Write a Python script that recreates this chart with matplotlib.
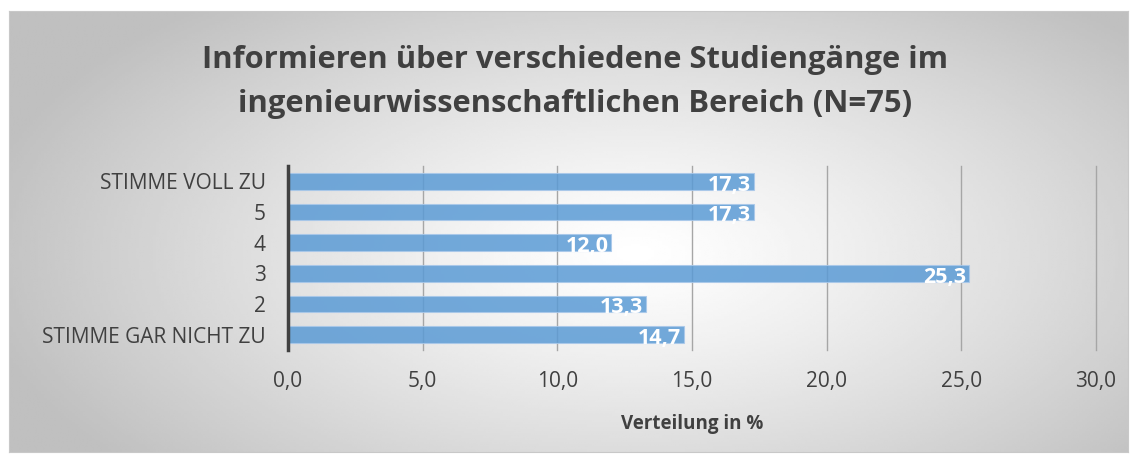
import numpy as np
import matplotlib
matplotlib.use("Agg")
import matplotlib.pyplot as plt
from matplotlib.ticker import FuncFormatter

plt.rcParams['font.family'] = ['Open Sans', 'DejaVu Sans']

categories = ['STIMME GAR NICHT ZU', '2', '3', '4', '5', 'STIMME VOLL ZU']
values = [14.7, 13.3, 25.3, 12.0, 17.3, 17.3]
xticks = [0, 5, 10, 15, 20, 25, 30]
title = 'Informieren über verschiedene Studiengänge im\ningenieurwissenschaftlichen Bereich (N=75)'

W, H = 1137, 457
fig = plt.figure(figsize=(W / 100, H / 100), dpi=100)
fig.patch.set_facecolor('white')

# radial gradient background of the chart area
x0, y0, x1, y1 = 9, 11, 1128, 452
bg = fig.add_axes([x0 / W, 1 - y1 / H, (x1 - x0) / W, (y1 - y0) / H])
gx, gy = np.meshgrid(np.linspace(0, 1, 400), np.linspace(0, 1, 200))
r = np.sqrt(((gx - 0.56) / 0.6) ** 2 + ((gy - 0.55) / 0.75) ** 2)
shade = 1 - 0.25 * np.clip(r, 0, 1) ** 1.2
bg.imshow(shade, cmap='gray', vmin=0, vmax=1, aspect='auto',
          extent=[0, 1, 0, 1], interpolation='bilinear')
bg.set_xticks([])
bg.set_yticks([])
for s in bg.spines.values():
    s.set_color('#c8c8c8')
    s.set_linewidth(0.8)

# plot area
px0, px1, py0, py1 = 288, 1096, 166, 350
ax = fig.add_axes([px0 / W, 1 - py1 / H, (px1 - px0) / W, (py1 - py0) / H])
ax.patch.set_alpha(0)
ypos = np.arange(len(categories))
bars = ax.barh(ypos, values, height=0.55, color='#5b9bd5', alpha=0.85,
               edgecolor='#a9c8ea', linewidth=0.8, zorder=3)
ax.set_xlim(0, 30)
ax.set_ylim(-0.5, len(categories) - 0.5)
ax.set_xticks(xticks)
ax.xaxis.set_major_formatter(FuncFormatter(lambda v, p: f'{v:.1f}'.replace('.', ',')))
ax.set_yticks(ypos)
ax.set_yticklabels(categories)
ax.tick_params(axis='both', length=0, labelsize=15, colors='#404040')
ax.tick_params(axis='x', pad=15)
ax.tick_params(axis='y', pad=16)
ax.grid(axis='x', color='#a6a6a6', linewidth=1.0, zorder=1)
for gl in ax.get_xgridlines():
    gl.set_clip_on(False)
for side in ['top', 'right', 'bottom']:
    ax.spines[side].set_visible(False)
ax.spines['left'].set_color('#404040')
ax.spines['left'].set_linewidth(2.5)
ax.spines['left'].set_zorder(4)

for b, v in zip(bars, values):
    ax.text(v - 0.1, b.get_y() + b.get_height() / 2 - 0.12, f'{v:.1f}'.replace('.', ','),
            ha='right', va='center', color='white', fontsize=15.5, fontweight='bold', zorder=5)

ax.set_xlabel('Verteilung in %', fontsize=13.5, fontweight='bold', color='#404040', labelpad=16)

fig.text(0.5 + 7 / W, 1 - 82 / H, title, ha='center', va='center', fontsize=22.2,
         fontweight='bold', color='#404040', linespacing=1.65)

fig.savefig('out.png', dpi=100, facecolor='white')
